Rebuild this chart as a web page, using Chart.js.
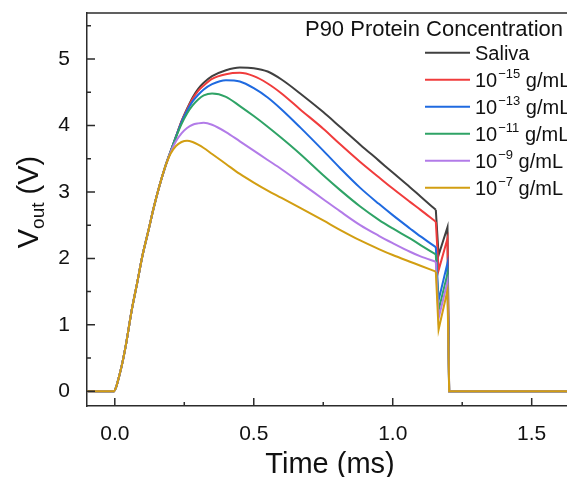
<!DOCTYPE html>
<html>
<head>
<meta charset="utf-8">
<script src="https://cdn.jsdelivr.net/npm/chart.js@4.4.1/dist/chart.umd.min.js"></script>
<style>
  html, body { margin: 0; padding: 0; background: #fff; }
  #wrap { width: 567px; height: 477px; position: relative; }
</style>
</head>
<body>
<div id="wrap"><canvas id="myChart"></canvas></div>
<script>
// time axis (ms) shared by every trace
const timeMs = [-0.1, -0.005, 0.02, 0.04, 0.06, 0.08, 0.10, 0.12, 0.14, 0.16, 0.18, 0.20,
  0.22, 0.24, 0.26, 0.28, 0.30, 0.32, 0.35, 0.40, 0.45, 0.50, 0.55, 0.60, 0.667, 0.75,
  0.81, 0.883, 0.95, 1.0, 1.062, 1.1, 1.155, 1.165, 1.197, 1.203, 1.627];
const SPIKE_START = 32; // index of t = 1.155, where the fall-off spike begins

// rising edge is common to all traces
const rise = [0, 0, 0.3, 0.7, 1.2, 1.62, 2.05, 2.4, 2.76, 3.08, 3.36];

const saliva = rise.concat([3.6, 3.83, 4.06, 4.25, 4.42, 4.55, 4.64, 4.74, 4.83, 4.87, 4.86, 4.81, 4.69, 4.48, 4.2, 3.98, 3.71, 3.47, 3.29, 3.07, 2.93, 2.73, 2.05, 2.47, 0, 0]);
const c15 = rise.concat([3.6, 3.83, 4.06, 4.24, 4.4, 4.52, 4.6, 4.7, 4.77, 4.79, 4.74, 4.63, 4.48, 4.24, 3.95, 3.72, 3.45, 3.22, 3.05, 2.85, 2.73, 2.55, 1.82, 2.3, 0, 0]);
const c13 = rise.concat([3.6, 3.83, 4.05, 4.22, 4.36, 4.46, 4.54, 4.62, 4.68, 4.66, 4.56, 4.42, 4.24, 3.97, 3.62, 3.36, 3.06, 2.82, 2.65, 2.45, 2.33, 2.17, 1.37, 1.93, 0, 0]);
const c11 = rise.concat([3.6, 3.82, 4.02, 4.18, 4.3, 4.39, 4.45, 4.48, 4.43, 4.29, 4.14, 3.98, 3.81, 3.57, 3.25, 3.03, 2.78, 2.58, 2.45, 2.3, 2.2, 2.06, 1.22, 1.77, 0, 0]);
const c9 = rise.concat([3.59, 3.76, 3.88, 3.96, 4.01, 4.03, 4.04, 4.01, 3.9, 3.76, 3.62, 3.48, 3.34, 3.14, 2.89, 2.71, 2.5, 2.34, 2.23, 2.1, 2.03, 1.95, 1.10, 1.65, 0, 0]);
const c7 = rise.concat([3.57, 3.69, 3.75, 3.77, 3.75, 3.71, 3.66, 3.57, 3.42, 3.27, 3.14, 3.02, 2.91, 2.76, 2.57, 2.43, 2.27, 2.14, 2.05, 1.95, 1.89, 1.80, 0.93, 1.52, 0, 0]);

const seriesValues = [saliva, c15, c13, c11, c9, c7];
const seriesBase = ["Saliva", "10", "10", "10", "10", "10"];
const seriesSup = ["", "\u221215", "\u221213", "\u221211", "\u22129", "\u22127"];
const seriesTail = ["", " g/mL", " g/mL", " g/mL", " g/mL", " g/mL"];
const seriesColors = ["#404040", "#f03c3c", "#1f6ae0", "#2fa366", "#b27be8", "#d29e12"];

const xTickValues = [0, 0.5, 1.0, 1.5];
const xMinorValues = [0.25, 0.75, 1.25];
const yTickValues = [0, 1, 2, 3, 4, 5];
const yMinorValues = [0.5, 1.5, 2.5, 3.5, 4.5, 5.5];

const FONT = "'Liberation Sans', Arial, sans-serif";
const AXIS = "#2b2b2b";

function toPoints(vals, from, to) {
  const pts = [];
  for (let k = from; k < to; k++) pts.push({ x: timeMs[k], y: vals[k] });
  return pts;
}

// each trace = smooth pulse body + straight-segment spike at the end
const datasets = [];
seriesValues.forEach((vals, i) => {
  const label = seriesBase[i] + (seriesSup[i] ? "^" + seriesSup[i] : "") + seriesTail[i];
  const common = {
    label,
    borderColor: seriesColors[i],
    backgroundColor: seriesColors[i],
    borderWidth: 2,
    pointRadius: 0,
    order: seriesValues.length - i, // gold on top
  };
  datasets.push({ ...common, data: toPoints(vals, 0, SPIKE_START + 1), cubicInterpolationMode: "monotone" });
  datasets.push({ ...common, data: toPoints(vals, SPIKE_START, timeMs.length), tension: 0 });
});

const decor = {
  id: "decor",
  afterDraw(chart) {
    const ctx = chart.ctx;
    const area = chart.chartArea;
    const xs = chart.scales.x;
    const ys = chart.scales.y;
    ctx.save();
    ctx.strokeStyle = AXIS;
    ctx.lineWidth = 1.5;
    // top frame
    ctx.beginPath();
    ctx.moveTo(area.left, area.top);
    ctx.lineTo(area.right, area.top);
    ctx.stroke();
    // inward ticks
    ctx.beginPath();
    xTickValues.forEach((v) => {
      const p = xs.getPixelForValue(v);
      ctx.moveTo(p, area.bottom); ctx.lineTo(p, area.bottom - 8);
    });
    xMinorValues.forEach((v) => {
      const p = xs.getPixelForValue(v);
      ctx.moveTo(p, area.bottom); ctx.lineTo(p, area.bottom - 4);
    });
    yTickValues.forEach((v) => {
      const p = ys.getPixelForValue(v);
      ctx.moveTo(area.left, p); ctx.lineTo(area.left + 8, p);
    });
    yMinorValues.forEach((v) => {
      const p = ys.getPixelForValue(v);
      ctx.moveTo(area.left, p); ctx.lineTo(area.left + 4, p);
    });
    ctx.stroke();

    // axis titles
    ctx.fillStyle = "#111";
    ctx.textBaseline = "alphabetic";
    ctx.font = "29px " + FONT;
    ctx.textAlign = "center";
    ctx.fillText("Time (ms)", 330, 473);

    ctx.save();
    ctx.translate(38, 202);
    ctx.rotate(-Math.PI / 2);
    ctx.font = "29px " + FONT;
    const wV = ctx.measureText("V").width;
    ctx.font = "19px " + FONT;
    const wSub = ctx.measureText("out").width;
    ctx.font = "29px " + FONT;
    const wRest = ctx.measureText(" (V)").width;
    const x0 = -(wV + wSub + wRest) / 2;
    ctx.textAlign = "left";
    ctx.fillText("V", x0, 0);
    ctx.font = "19px " + FONT;
    ctx.fillText("out", x0 + wV, 6);
    ctx.font = "29px " + FONT;
    ctx.fillText(" (V)", x0 + wV + wSub, 0);
    ctx.restore();

    // legend
    ctx.textAlign = "right";
    ctx.font = "22px " + FONT;
    ctx.fillText("P90 Protein Concentration", 563, 36);
    ctx.textAlign = "left";
    seriesValues.forEach((vals, i) => {
      const y = 52.7 + 27 * i;
      ctx.strokeStyle = seriesColors[i];
      ctx.lineWidth = 2;
      ctx.beginPath();
      ctx.moveTo(425, y); ctx.lineTo(470, y);
      ctx.stroke();
      let tx = 475;
      const base = y + 7;
      ctx.font = "20px " + FONT;
      ctx.fillText(seriesBase[i], tx, base);
      tx += ctx.measureText(seriesBase[i]).width;
      if (seriesSup[i]) {
        ctx.font = "13px " + FONT;
        ctx.fillText(seriesSup[i], tx + 1, base - 9);
        tx += ctx.measureText(seriesSup[i]).width + 1;
        ctx.font = "20px " + FONT;
        ctx.fillText(seriesTail[i], tx, base);
      }
    });
    ctx.restore();
  },
};

const config = {
  type: "line",
  data: { datasets },
  options: {
    responsive: true,
    maintainAspectRatio: false,
    animation: false,
    layout: { padding: { top: 13, right: 0, left: 0, bottom: 0 } },
    plugins: { legend: { display: false }, tooltip: { enabled: false } },
    scales: {
      x: {
        type: "linear",
        min: -0.1,
        max: 1.627,
        grid: { display: false },
        border: { display: true, color: AXIS, width: 1.5 },
        ticks: {
          padding: 8,
          color: "#111",
          font: { family: FONT, size: 21 },
          callback: (v) => Number(v).toFixed(1),
        },
        afterBuildTicks: (scale) => {
          scale.ticks = xTickValues.map((v) => ({ value: v }));
        },
        afterFit: (scale) => {
          scale.height = 71;
          scale.paddingLeft = 0;
          scale.paddingRight = 0;
        },
      },
      y: {
        min: -0.22,
        max: 5.69,
        grid: { display: false },
        border: { display: true, color: AXIS, width: 1.5 },
        ticks: {
          padding: 9,
          color: "#111",
          font: { family: FONT, size: 21 },
          callback: (v) => String(v),
        },
        afterBuildTicks: (scale) => {
          scale.ticks = yTickValues.map((v) => ({ value: v }));
        },
        afterFit: (scale) => {
          scale.width = 87;
          scale.paddingTop = 0;
          scale.paddingBottom = 0;
        },
      },
    },
  },
  plugins: [decor],
};

const myChart = new Chart(document.getElementById("myChart"), config);
</script>
</body>
</html>
